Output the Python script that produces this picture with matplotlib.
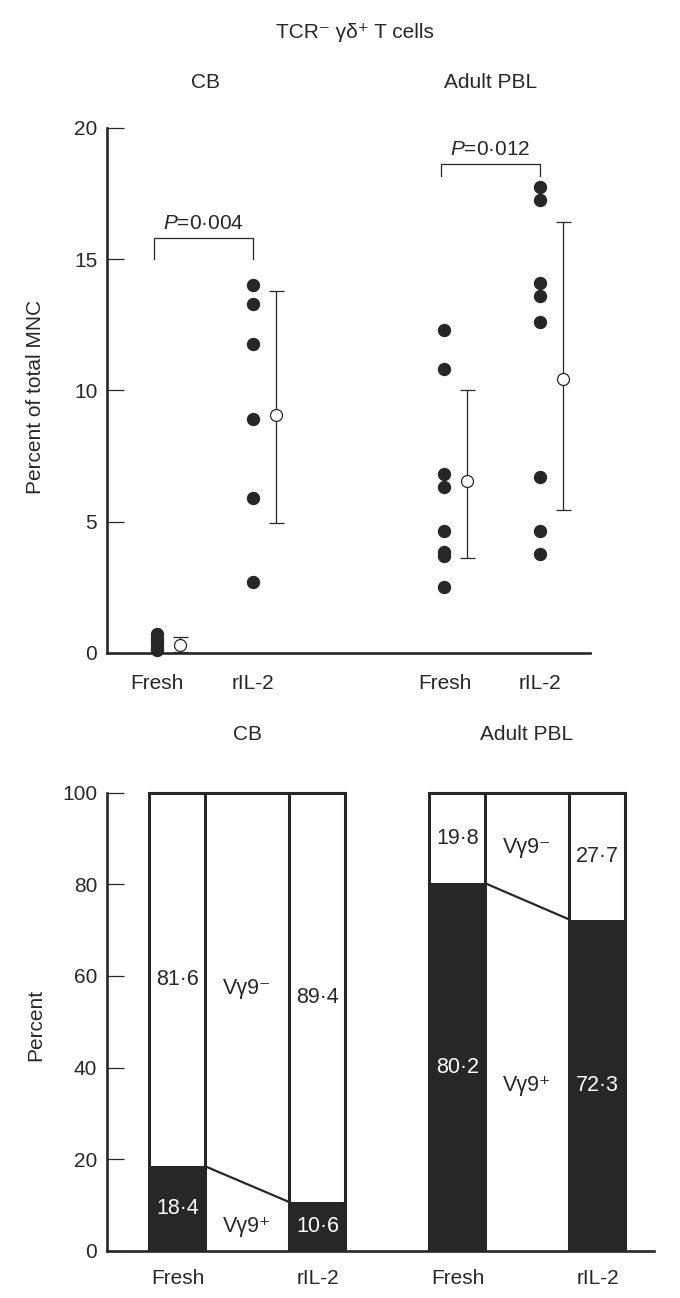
import numpy as np
import matplotlib
matplotlib.use('Agg')
import matplotlib.pyplot as plt

# ---- data: top panel (percent of total MNC) ----
groups = ['CB', 'Adult PBL']
conditions = ['Fresh', 'rIL-2']
cb_fresh = [0.72, 0.58, 0.45, 0.32, 0.2, 0.1]
cb_ril2 = [14.0, 13.3, 11.75, 8.9, 5.9, 2.7]
pbl_fresh = [12.3, 10.8, 6.8, 6.3, 4.65, 3.85, 3.7, 2.5]
pbl_ril2 = [17.75, 17.25, 14.1, 13.6, 12.6, 6.7, 4.65, 3.75]
mean_vals = [0.3, 9.05, 6.55, 10.45]
err_low = [0.02, 4.95, 3.6, 5.45]
err_high = [0.6, 13.8, 10.0, 16.4]
p_labels = ['0·004', '0·012']

# ---- data: bottom panel (Vγ9+ / Vγ9- split, percent) ----
vg9_pos = [18.4, 10.6, 80.2, 72.3]
vg9_neg = [81.6, 89.4, 19.8, 27.7]

dark = '#272727'
sans = ['Liberation Sans', 'DejaVu Sans']
plt.rcParams['font.family'] = sans
plt.rcParams['mathtext.fontset'] = 'custom'
plt.rcParams['mathtext.rm'] = 'Liberation Sans'
plt.rcParams['mathtext.it'] = 'Liberation Sans:italic'
fs = 15
fs_num = 15.5

W, H = 680, 1298
fig = plt.figure(figsize=(W / 100, H / 100), dpi=100)

# ================= top panel =================
ax1 = fig.add_axes([107 / W, 1 - 652.8 / H, 483 / W, 524.8 / H])
xpos = [0, 1, 3, 4]
series = [cb_fresh, cb_ril2, pbl_fresh, pbl_ril2]
for x, vals in zip(xpos, series):
    ax1.plot(np.full(len(vals), x), vals, 'o', ms=8.6, color=dark, mec=dark,
             clip_on=False, zorder=3)

mx = np.array(xpos) + 0.24
m = np.array(mean_vals)
yerr = [m - np.array(err_low), np.array(err_high) - m]
ax1.errorbar(mx, m, yerr=yerr, fmt='o', ms=8.6, mfc='white', mec=dark, mew=0.9,
             ecolor=dark, elinewidth=0.9, capsize=5.4, capthick=0.9, zorder=4)

# significance brackets
for (x0, x1), (ylo, yhi), p in zip([(0, 1), (3, 4)], [(15.0, 15.82), (18.17, 18.62)], p_labels):
    ax1.plot([x0 - 0.04, x0 - 0.04, x1, x1], [ylo, yhi, yhi, ylo], color=dark, lw=0.9,
             clip_on=False)
    ax1.text((x0 - 0.04 + x1) / 2, yhi + 0.18, r'$P$=' + p, ha='center', va='bottom',
             fontsize=fs, color=dark)

ax1.set_ylim(0, 20)
ax1.set_xlim(-0.526, 4.521)
ax1.set_yticks([0, 5, 10, 15, 20])
ax1.set_xticks(xpos)
ax1.set_xticklabels(conditions * 2, fontsize=fs)
ax1.tick_params(axis='y', direction='in', length=12, width=0.9, pad=7,
                labelsize=fs, color=dark, labelcolor=dark)
ax1.tick_params(axis='x', length=0, pad=15, labelcolor=dark)
for s in ['top', 'right']:
    ax1.spines[s].set_visible(False)
for s in ['left', 'bottom']:
    ax1.spines[s].set_linewidth(1.9)
    ax1.spines[s].set_color(dark)

fig.text(355 / W, 1 - 32 / H, 'TCR⁻ γδ⁺ T cells', ha='center', va='center',
         fontsize=fs, color=dark)
fig.text(205 / W, 1 - 82 / H, groups[0], ha='center', va='center', fontsize=fs,
         color=dark)
fig.text(491 / W, 1 - 82 / H, groups[1], ha='center', va='center', fontsize=fs,
         color=dark)
fig.text(36 / W, 1 - 397 / H, 'Percent of total MNC', rotation=90, ha='center',
         va='center', fontsize=fs, color=dark)

# ================= bottom panel =================
ax2 = fig.add_axes([107 / W, 1 - 1250.7 / H, 547 / W, 458 / H])
bx = np.arange(4)
bw = 0.4
lw = 2.2
ax2.bar(bx, vg9_pos, width=bw, color=dark, linewidth=0, zorder=2)
ax2.bar(bx, vg9_neg, width=bw, bottom=vg9_pos, color='white', linewidth=0, zorder=2)

for i0 in (0, 2):
    i1 = i0 + 1
    left0, right0 = bx[i0] - bw / 2, bx[i0] + bw / 2
    left1, right1 = bx[i1] - bw / 2, bx[i1] + bw / 2
    # bar edges
    for xe in (left0, right0, left1, right1):
        ax2.plot([xe, xe], [0, 100], color=dark, lw=lw, zorder=3,
                 solid_capstyle='projecting')
    ax2.plot([left0, right1], [100, 100], color=dark, lw=lw, zorder=3,
             solid_capstyle='projecting', clip_on=False)
    ax2.plot([right0, left1], [vg9_pos[i0], vg9_pos[i1]], color=dark, lw=1.6, zorder=3)
    # connector labels
    cx = (bx[i0] + bx[i1]) / 2
    yneg = ((vg9_pos[i0] + 100) / 2 + (vg9_pos[i1] + 100) / 2) / 2
    ypos = min(vg9_pos[i0], vg9_pos[i1]) / 2
    ax2.text(cx, yneg, 'Vγ9⁻', ha='center', va='center', fontsize=fs_num, color=dark)
    ax2.text(cx, ypos, 'Vγ9⁺', ha='center', va='center', fontsize=fs_num, color=dark)

for x, p, n in zip(bx, vg9_pos, vg9_neg):
    ax2.text(x, p / 2, f'{p:.1f}'.replace('.', '·'), ha='center', va='center',
             fontsize=fs_num, color='white', zorder=4)
    ax2.text(x, p + n / 2, f'{n:.1f}'.replace('.', '·'), ha='center', va='center',
             fontsize=fs_num, color=dark, zorder=4)

ax2.set_ylim(0, 100)
ax2.set_xlim(-0.5036, 3.404)
ax2.set_yticks([0, 20, 40, 60, 80, 100])
ax2.set_xticks(bx)
ax2.set_xticklabels(conditions * 2, fontsize=fs)
ax2.tick_params(axis='y', direction='in', length=12, width=0.9, pad=7,
                labelsize=fs, color=dark, labelcolor=dark)
ax2.tick_params(axis='x', length=0, pad=13, labelcolor=dark)
for s in ['top', 'right']:
    ax2.spines[s].set_visible(False)
for s in ['left', 'bottom']:
    ax2.spines[s].set_linewidth(1.9)
    ax2.spines[s].set_color(dark)

fig.text(248 / W, 1 - 735 / H, groups[0], ha='center', va='center', fontsize=fs,
         color=dark)
fig.text(527 / W, 1 - 735 / H, groups[1], ha='center', va='center', fontsize=fs,
         color=dark)
fig.text(36 / W, 1 - 1025 / H, 'Percent', rotation=90, ha='center', va='center',
         fontsize=fs, color=dark)

fig.savefig('out.png', dpi=100, facecolor='white')
